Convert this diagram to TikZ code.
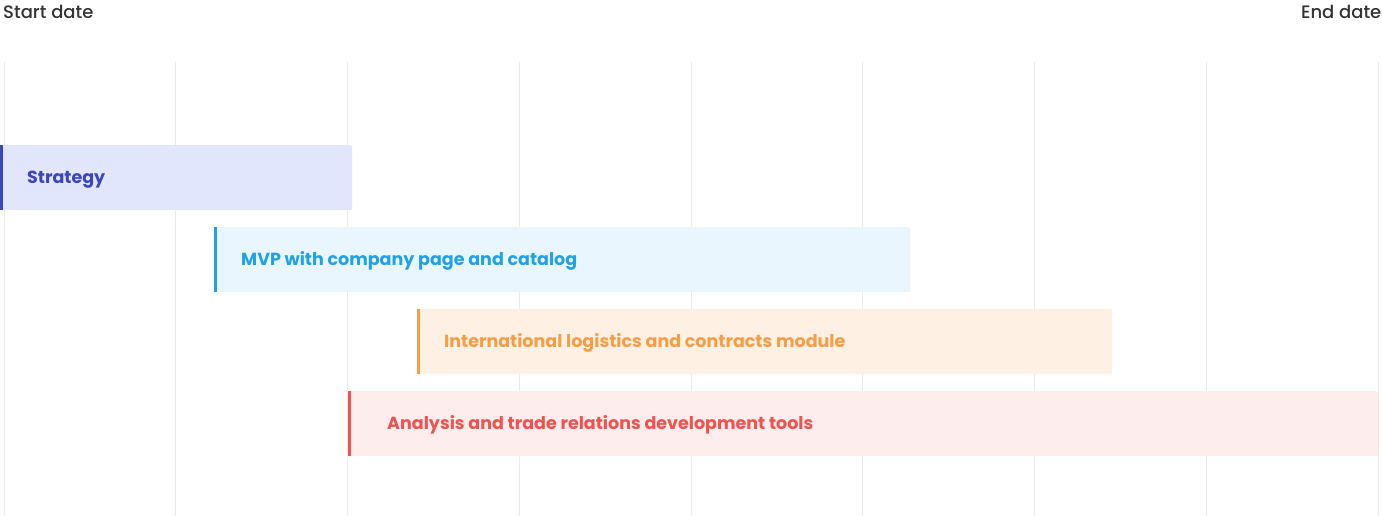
\documentclass[tikz,border=0pt]{standalone}
\usepackage{fontspec}
\setmainfont{Poppins}[UprightFont={* Medium}, BoldFont={* Bold}]
\usetikzlibrary{positioning}

\definecolor{gridline}{HTML}{EBEBEE}
\definecolor{headtext}{HTML}{333333}
\definecolor{stratfill}{HTML}{E2E6FD}
\definecolor{stratline}{HTML}{3B47B8}
\definecolor{mvpfill}{HTML}{EAF6FE}
\definecolor{mvpline}{HTML}{24A0E4}
\definecolor{intlfill}{HTML}{FEF1E4}
\definecolor{intlline}{HTML}{F49E48}
\definecolor{anafill}{HTML}{FEEDED}
\definecolor{analine}{HTML}{EF5350}

\tikzset{
  bar/.style={rectangle, rounded corners=2pt, inner sep=0pt, minimum height=65pt, anchor=north west},
  accent/.style={line width=3pt},
  barlabel/.style={anchor=west, inner sep=0pt, yshift=-1.5pt, font=\fontsize{17.5}{20}\selectfont\bfseries},
  headlabel/.style={inner sep=0pt, text=headtext, font=\fontsize{18}{20}\selectfont}
}

\begin{document}
\begin{tikzpicture}[x=1pt, y=-1pt]
    \useasboundingbox (0,0) rectangle (1382,516);
    % grid
    \foreach \i in {0,1,...,8} {
      \draw[gridline, line width=1pt] (4+171.75*\i, 62) -- (4+171.75*\i, 516);
    }
    \node[headlabel, anchor=north west] (start) at (3,4.5) {Start date};
    \node[headlabel, anchor=north east] (end) at (1381.5,4.5) {End date};
    % bars
    \node[bar, fill=stratfill, minimum width=352pt] (strategy) at (0,145) {};
    \node[bar, fill=mvpfill, minimum width=696pt] (mvp) at (214,227) {};
    \node[bar, fill=intlfill, minimum width=695pt] (intl) at (417,309) {};
    \node[bar, fill=anafill, minimum width=1030pt] (analysis) at (348,391) {};
    \foreach \b/\c in {strategy/stratline, mvp/mvpline, intl/intlline, analysis/analine} {
      \draw[accent, \c] ([xshift=1.5pt]\b.north west) -- ([xshift=1.5pt]\b.south west);
    }
    \node[barlabel, text=stratline, right=27pt of strategy.west] (stratText) {Strategy};
    \node[barlabel, text=mvpline, right=27pt of mvp.west] (mvpText) {MVP with company page and catalog};
    \node[barlabel, text=intlline, right=27pt of intl.west] (intlText) {International logistics and contracts module};
    \node[barlabel, text=analine, right=39pt of analysis.west] (anaText) {Analysis and trade relations development tools};
  \end{tikzpicture}
\end{document}
